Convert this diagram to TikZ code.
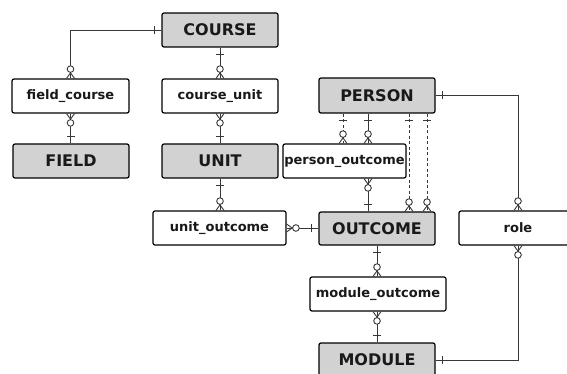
\documentclass[tikz,border=0pt]{standalone}
\usepackage{fontspec}
\setmainfont{DejaVu Sans}
\definecolor{entfill}{RGB}{210,210,210}
\definecolor{linecol}{RGB}{55,55,55}
\definecolor{txtcol}{RGB}{25,25,25}
\tikzset{
  basebox/.style={draw=black, line width=1.2pt, rounded corners=2pt, inner sep=0pt, text=txtcol, font=\fontsize{13}{15}\selectfont\bfseries},
  entity/.style={basebox, fill=entfill, minimum width=116pt, minimum height=34pt, font=\fontsize{16}{18}\selectfont\bfseries},
  assoc/.style={basebox, fill=white, minimum height=34pt},
  conn/.style={draw=linecol, line width=0.9pt},
  dashconn/.style={conn, dash pattern=on 3pt off 2.5pt},
  pics/onemark/.style={code={\draw[draw=linecol, line width=0.9pt] (7,-4) -- (7,4);}},
  pics/manymark/.style={code={
    \draw[draw=linecol, line width=0.9pt] (0,4) -- (5.5,0) -- (0,-4);
    \draw[draw=linecol, line width=0.9pt, fill=white] (9.3,0) circle (3.3);}}
}
\begin{document}
\begin{tikzpicture}[x=1pt,y=1pt]
\useasboundingbox (0,0) rectangle (567,-374);
% nodes
\node[entity] (course) at (220,-30) {COURSE};
\node[assoc, minimum width=117pt] (fc) at (70.5,-96) {field\_course};
\node[assoc, minimum width=116pt] (cu) at (220,-96) {course\_unit};
\node[entity] (field) at (71,-161) {FIELD};
\node[entity] (unit) at (220,-161) {UNIT};
\node[entity, minimum height=35pt] (person) at (377,-95.5) {PERSON};
\node[assoc, minimum width=123pt] (po) at (344.5,-161) {person\_outcome};
\node[entity, minimum height=33pt] (outcome) at (377,-228.5) {OUTCOME};
\node[assoc, minimum width=133pt] (uo) at (219.5,-228) {unit\_outcome};
\node[assoc, minimum width=118pt] (role) at (518,-228) {role};
\node[assoc, minimum width=136pt] (mo) at (378,-294) {module\_outcome};
\node[entity] (module) at (377,-360) {MODULE};
% connectors
\draw[conn] (course.west) -| (fc.north);
\draw[conn] (course.south) -- (cu.north);
\draw[conn] (fc.south) -- (fc.south |- field.north);
\draw[conn] (cu.south) -- (unit.north);
\draw[conn] (unit.south) -- (unit.south |- uo.north);
\draw[conn] (uo.east) -- (uo.east -| outcome.west);
\draw[dashconn] ([xshift=-34pt]person.south) coordinate (p1) -- (p1 |- po.north) coordinate (q1);
\draw[conn] ([xshift=-9pt]person.south) coordinate (p2) -- (p2 |- po.north) coordinate (q2);
\draw[dashconn] ([xshift=32pt]person.south) coordinate (p3) -- (p3 |- outcome.north) coordinate (q3);
\draw[dashconn] ([xshift=50pt]person.south) coordinate (p4) -- (p4 |- outcome.north) coordinate (q4);
\draw[conn] ([xshift=-9pt]outcome.north) coordinate (r1) -- (r1 |- po.south) coordinate (s1);
\draw[conn] (person.east) -| (role.north);
\draw[conn] (outcome.south) -- (outcome.south |- mo.north) coordinate (m1);
\draw[conn] (m1 |- mo.south) coordinate (m2) -- (m2 |- module.north) coordinate (m3);
\draw[conn] (role.south) |- (module.east);
% end marks
\pic[rotate=180] at (course.west) {onemark};
\pic[rotate=90] at (fc.north) {manymark};
\pic[rotate=270] at (course.south) {onemark};
\pic[rotate=90] at (cu.north) {manymark};
\pic[rotate=270] at (fc.south) {manymark};
\pic[rotate=90] at (fc.south |- field.north) {onemark};
\pic[rotate=270] at (cu.south) {manymark};
\pic[rotate=90] at (unit.north) {onemark};
\pic[rotate=270] at (unit.south) {onemark};
\pic[rotate=90] at (unit.south |- uo.north) {manymark};
\pic at (uo.east) {manymark};
\pic[rotate=180] at (uo.east -| outcome.west) {onemark};
\pic[rotate=270] at (p1) {onemark};
\pic[rotate=270] at (p2) {onemark};
\pic[rotate=270] at (p3) {onemark};
\pic[rotate=270] at (p4) {onemark};
\pic[rotate=90] at (q1) {manymark};
\pic[rotate=90] at (q2) {manymark};
\pic[rotate=90] at (q3) {manymark};
\pic[rotate=90] at (q4) {manymark};
\pic[rotate=270] at (s1) {manymark};
\pic[rotate=90] at (r1) {onemark};
\pic at (person.east) {onemark};
\pic[rotate=90] at (role.north) {manymark};
\pic[rotate=270] at (outcome.south) {onemark};
\pic[rotate=90] at (m1) {manymark};
\pic[rotate=270] at (m2) {manymark};
\pic[rotate=90] at (m3) {onemark};
\pic[rotate=270] at (role.south) {manymark};
\pic at (module.east) {onemark};
\end{tikzpicture}
\end{document}
